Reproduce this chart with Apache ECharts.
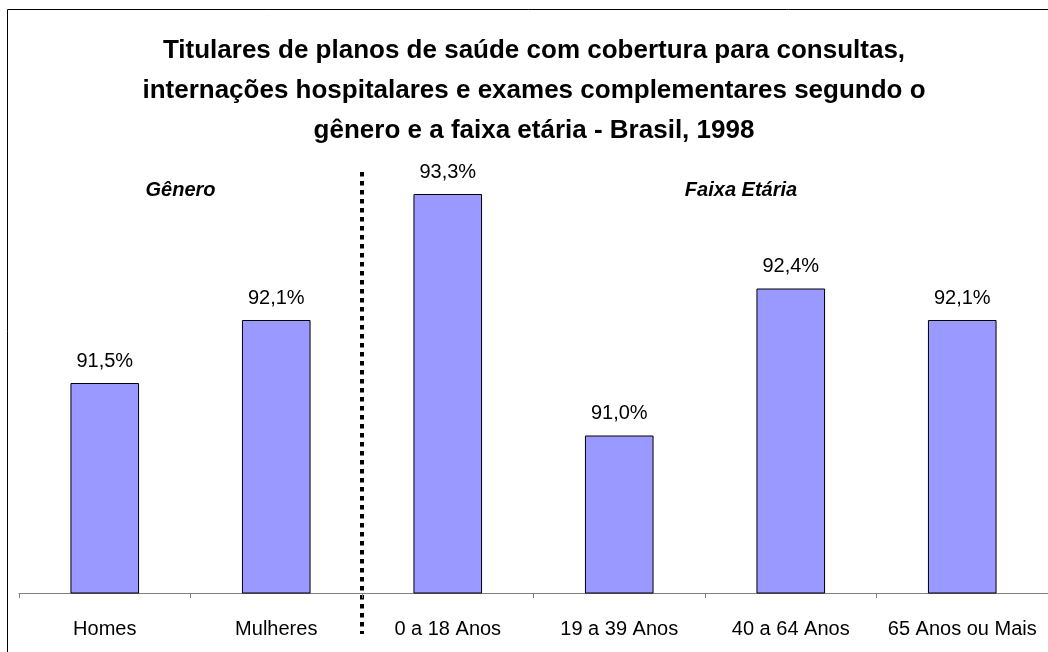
<!DOCTYPE html>
<html>
<head>
<meta charset="utf-8">
<script src="https://cdn.jsdelivr.net/npm/echarts@6/dist/echarts.min.js"></script>
<style>
  * { margin: 0; padding: 0; }
  body { background: #ffffff; }
  #chart { width: 1048px; height: 652px; }
</style>
</head>
<body>
<div id="chart"></div>
<script>
// categorias e valores (%)
var categorias = ['Homes', 'Mulheres', '0 a 18 Anos', '19 a 39 Anos', '40 a 64 Anos', '65 Anos ou Mais'];
var valores = [91.5, 92.1, 93.3, 91.0, 92.4, 92.1];
var grupos = ['Gênero', 'Faixa Etária'];

var titulo = 'Titulares de planos de saúde com cobertura para consultas,\n' +
  'internações hospitalares e exames complementares segundo o\n' +
  'gênero e a faixa etária - Brasil, 1998';

var fonte = 'Liberation Sans, Arial, sans-serif';

var chart = echarts.init(document.getElementById('chart'));

var option = {
  backgroundColor: '#ffffff',
  animation: false,
  title: {
    text: titulo,
    left: 529,
    top: 26,
    textAlign: 'center',
    textStyle: {
      fontFamily: fonte,
      fontSize: 26,
      fontWeight: 'bold',
      color: '#000000',
      lineHeight: 40,
    },
  },
  grid: {
    left: 19,
    right: 0,
    top: 173,
    bottom: 59,
  },
  xAxis: {
    type: 'category',
    data: categorias,
    boundaryGap: true,
    axisLine: { lineStyle: { color: '#808080', width: 1 } },
    axisTick: { show: true, length: 5, lineStyle: { color: '#808080' } },
    axisLabel: {
      color: '#000000',
      fontFamily: fonte,
      fontSize: 20,
      margin: 26,
      interval: 0,
    },
  },
  yAxis: {
    type: 'value',
    min: 89.5,
    max: 93.5,
    show: false,
    splitLine: { show: false },
  },
  series: [
    {
      type: 'bar',
      data: valores,
      barWidth: '40%',
      itemStyle: {
        color: '#9999FF',
        borderColor: '#000000',
        borderWidth: 1,
      },
      label: {
        show: true,
        position: 'top',
        distance: 12,
        color: '#000000',
        fontFamily: fonte,
        fontSize: 20,
        formatter: function (p) {
          return p.value.toFixed(1).replace('.', ',') + '%';
        },
      },
    },
  ],
};

chart.setOption(option);

// posições para separador e rótulos de grupo
var x0 = chart.convertToPixel({ xAxisIndex: 0 }, categorias[0]);
var x1 = chart.convertToPixel({ xAxisIndex: 0 }, categorias[1]);
var x2 = chart.convertToPixel({ xAxisIndex: 0 }, categorias[2]);
var sepX = (x1 + x2) / 2;

chart.setOption({
  graphic: [
    {
      type: 'polyline',
      silent: true,
      shape: { points: [[7.5, 700], [7.5, 9.5], [1100, 9.5]] },
      style: { stroke: '#000000', lineWidth: 1, fill: null },
    },
    {
      type: 'line',
      silent: true,
      shape: { x1: sepX, y1: 172, x2: sepX, y2: 634 },
      style: { stroke: '#000000', lineWidth: 4, lineDash: [4.5, 4.5] },
    },
    {
      type: 'text',
      silent: true,
      x: (x0 + x1) / 2 - 10,
      y: 190,
      style: {
        text: grupos[0],
        align: 'center',
        verticalAlign: 'middle',
        font: 'italic bold 20px ' + fonte,
        fill: '#000000',
      },
    },
    {
      type: 'text',
      silent: true,
      x: 741,
      y: 190,
      style: {
        text: grupos[1],
        align: 'center',
        verticalAlign: 'middle',
        font: 'italic bold 20px ' + fonte,
        fill: '#000000',
      },
    },
  ],
});
</script>
</body>
</html>
